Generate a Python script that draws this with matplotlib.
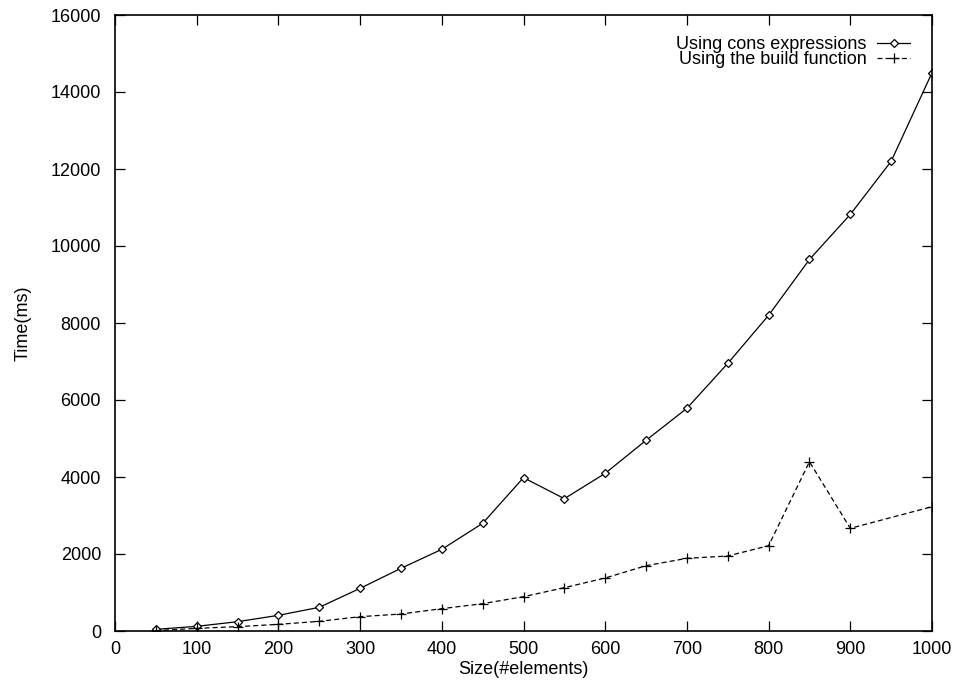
import matplotlib
matplotlib.use("Agg")
import matplotlib.pyplot as plt

plt.rcParams['font.family'] = ['Liberation Sans', 'DejaVu Sans']

sizes = [50, 100, 150, 200, 250, 300, 350, 400, 450, 500, 550, 600, 650, 700,
         750, 800, 850, 900, 950, 1000]
cons_ms = [43, 121, 242, 407, 615, 1108, 1628, 2121, 2797, 3983, 3437, 4095,
           4953, 5784, 6950, 8200, 9650, 10820, 12200, 14500]

build_sizes = [50, 100, 150, 200, 250, 300, 350, 400, 450, 500, 550, 600, 650,
               700, 750, 800, 850, 900, 1000]
build_ms = [10, 69, 113, 173, 251, 372, 441, 580, 710, 891, 1125, 1377, 1696,
            1888, 1948, 2216, 4397, 2667, 3229]

x_ticks = list(range(0, 1001, 100))
y_ticks = list(range(0, 16001, 2000))


def main():
    fig = plt.figure(figsize=(9.54, 6.83), dpi=100)
    ax = fig.add_axes([115 / 954, 52 / 683, 817 / 954, 616 / 683])

    ax.plot(sizes, cons_ms, color='black', lw=0.9, marker='D', markersize=4.3,
            markerfacecolor='white', markeredgecolor='black', markeredgewidth=0.9,
            label='Using cons expressions')
    ax.plot(build_sizes, build_ms, color='black', lw=0.9, linestyle=(0, (4, 2.5)),
            marker='+', markersize=6.5, markeredgewidth=0.9,
            label='Using the build function')

    ax.set_xlim(0, 1000)
    ax.set_ylim(0, 16000)
    ax.set_xticks(x_ticks)
    ax.set_yticks(y_ticks)
    ax.tick_params(direction='in', length=7, width=0.9, top=True, right=True,
                   labelsize=13)
    ax.tick_params(axis='y', pad=10)
    ax.tick_params(axis='x', pad=7)
    for s in ax.spines.values():
        s.set_linewidth(1.2)

    ax.set_xlabel("Size(#elements)", fontsize=13, labelpad=2)
    ax.set_ylabel("Time(ms)", fontsize=13, labelpad=14)

    leg = ax.legend(loc='upper right', bbox_to_anchor=(0.973, 0.966),
                    frameon=False, markerfirst=False, fontsize=13,
                    handlelength=1.8, handletextpad=0.6, labelspacing=-0.08,
                    borderaxespad=0, borderpad=0)
    # right align rows like gnuplot
    for col in leg._legend_handle_box.get_children():
        col.align = 'right'

    fig.savefig("out.png", dpi=100)


if __name__ == "__main__":
    main()
